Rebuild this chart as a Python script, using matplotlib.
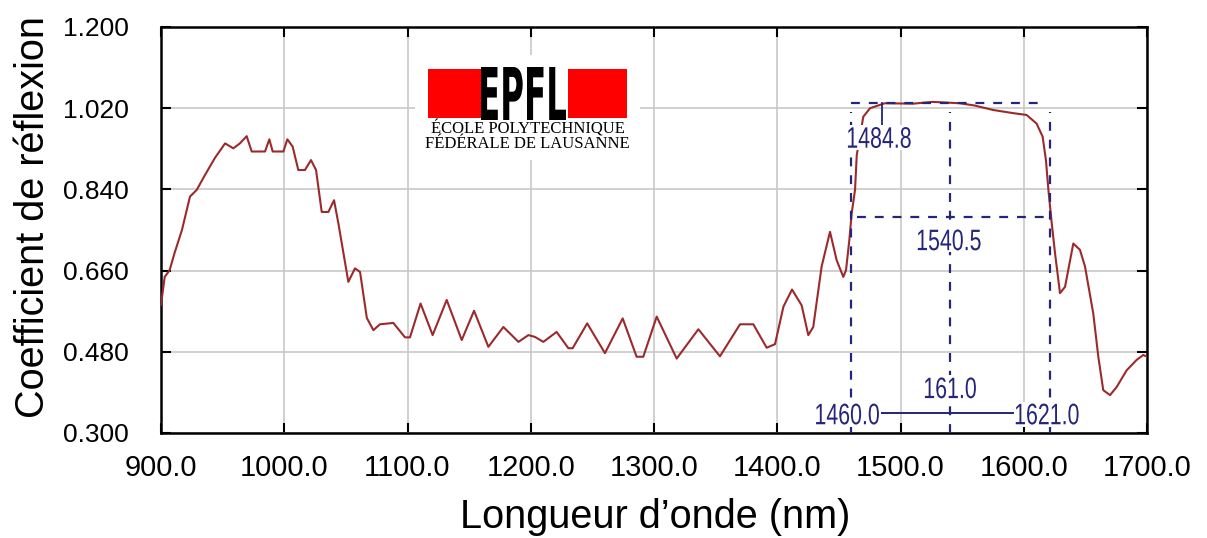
import numpy as np
import matplotlib
matplotlib.use('Agg')
import matplotlib.pyplot as plt
from matplotlib.patches import Rectangle, PathPatch
from matplotlib.textpath import TextPath
from matplotlib.font_manager import FontProperties
from matplotlib.transforms import Affine2D

# spectrum
wavelength = [900, 903, 907, 911, 917, 923.5, 929, 935.7, 943.8, 952, 958.7, 964, 969.5,
              973.6, 984.4, 987.9, 990.6, 999.3, 1002.5, 1006.8, 1011.4, 1016.8, 1021.7,
              1025.8, 1030.4, 1035.8, 1040.4, 1043.9, 1052, 1057.4, 1061.5, 1067, 1072.3,
              1077.7, 1088.5, 1098, 1102, 1110.6, 1120.4, 1131.8, 1144, 1154, 1165.6,
              1177.8, 1190, 1198.1, 1203.4, 1210.2, 1221, 1230.5, 1234, 1245.8, 1260.2,
              1274.6, 1285.9, 1291.3, 1302.2, 1318.4, 1336, 1353.5, 1369.8, 1380.6,
              1391.4, 1398.2, 1405, 1412, 1419.8, 1425.2, 1429.2, 1436, 1442.8, 1448.2,
              1453.6, 1455.8, 1458.5, 1460.4, 1463.1, 1464.5, 1469.8, 1475.3, 1487.4,
              1510, 1526, 1548, 1560, 1575.3, 1591.5, 1602.3, 1610.4, 1615.3, 1618, 1620,
              1622.7, 1625.4, 1629.4, 1633.5, 1640.2, 1645.6, 1649.7, 1656.4, 1660.5,
              1664.5, 1670, 1675.4, 1683.5, 1691.6, 1697, 1700]
reflexion = [0.584, 0.646, 0.661, 0.699, 0.750, 0.824, 0.839, 0.872, 0.910, 0.942, 0.931, 0.942, 0.958,
             0.924, 0.924, 0.951, 0.924, 0.924, 0.951, 0.935, 0.883, 0.883, 0.905,
             0.883, 0.790, 0.790, 0.816, 0.765, 0.635, 0.665, 0.657, 0.555, 0.528,
             0.541, 0.544, 0.512, 0.512, 0.587, 0.517, 0.595, 0.506, 0.571, 0.491,
             0.535, 0.502, 0.517, 0.513, 0.502, 0.524, 0.488, 0.488, 0.543, 0.477,
             0.554, 0.469, 0.469, 0.558, 0.465, 0.530, 0.470, 0.541, 0.541,
             0.489, 0.497, 0.580, 0.618, 0.583, 0.517, 0.535, 0.669, 0.746, 0.683,
             0.646, 0.661, 0.728, 0.787, 0.839, 0.916, 1.001, 1.020, 1.031,
             1.030, 1.034, 1.031, 1.026, 1.016, 1.009, 1.005, 0.986, 0.957, 0.905, 0.839,
             0.765, 0.698, 0.610, 0.624, 0.720, 0.706, 0.669, 0.565, 0.469,
             0.395, 0.384, 0.402, 0.439, 0.462, 0.473, 0.469]

x_ticks = [900.0, 1000.0, 1100.0, 1200.0, 1300.0, 1400.0, 1500.0, 1600.0, 1700.0]
y_ticks = [0.300, 0.480, 0.660, 0.840, 1.020, 1.200]

# band measurement
band_start = 1460.0
band_end = 1621.0
band_center = 1540.5
band_width = 161.0
peak_wl = 1484.8
top_level = 1.032
half_level = 0.779

navy = '#25257a'
curve_col = '#9c2a2c'

fig = plt.figure(figsize=(12.07, 5.38), dpi=100)
ax = fig.add_axes([161 / 1207, 105 / 538, 986 / 1207, 406 / 538])

ax.plot(wavelength, reflexion, color=curve_col, lw=1.5, zorder=3)

ax.set_xlim(900, 1700)
ax.set_ylim(0.3, 1.2)
ax.set_xticks(x_ticks, labels=[f'{v:.1f}' for v in x_ticks], family='Liberation Sans', fontsize=21)
ax.set_yticks(y_ticks, labels=[f'{v:.3f}' for v in y_ticks], family='Liberation Sans', fontsize=19)
ax.grid(color='#c8c8c8', lw=1.2)
ax.set_axisbelow(True)
ax.tick_params(direction='in', length=7, width=1.5, top=True, right=True, colors='black')
ax.tick_params(axis='x', pad=15)
ax.tick_params(axis='y', pad=23)
for s in ax.spines.values():
    s.set_linewidth(1.8)

# dashed measurement box
dash = (0, (4, 4))
for xv in [band_start, band_center, band_end]:
    ax.plot([xv, xv], [0.3, 1.012], color=navy, ls=dash, lw=1.6, zorder=4)
ax.plot([band_start, band_end - 5], [top_level, top_level], color=navy, ls=dash, lw=1.6, zorder=4)
ax.plot([band_start + 5, band_end], [half_level, half_level], color=navy, ls=dash, lw=1.6, zorder=4)
ax.plot([peak_wl, peak_wl], [top_level, 0.972], color=navy, lw=1.3, zorder=4)
ax.plot([band_start, band_end], [0.344, 0.344], color=navy, lw=1.4, zorder=4)


def narrow_label(x, y, s, height=21, squeeze=0.72):
    # condensed digits: squeeze a text path horizontally, placed in pixels around (x, y)
    tp = TextPath((0, 0), s, size=1, prop=FontProperties(family='Liberation Sans'))
    bb = tp.get_extents()
    k = height / bb.height
    cx, cy = ax.transData.transform((x, y))
    tr = (Affine2D().translate(-(bb.x0 + bb.width / 2), -(bb.y0 + bb.height / 2))
          .scale(k * squeeze, k).translate(cx, cy))
    w = bb.width * k * squeeze
    fig.patches.append(Rectangle((cx - w / 2 - 2, cy - height / 2 - 2), w + 4, height + 4,
                                 facecolor='white', edgecolor='none', transform=None, zorder=5))
    fig.patches.append(PathPatch(tr.transform_path(tp), facecolor=navy, edgecolor='none',
                                 transform=None, zorder=6))


narrow_label(peak_wl - 2, 0.955, f'{peak_wl:.1f}')
narrow_label(band_center - 1, 0.728, f'{band_center:.1f}')
narrow_label(band_center, 0.400, f'{band_width:.1f}')
narrow_label(band_start - 3, 0.342, f'{band_start:.1f}')
narrow_label(band_end - 2, 0.342, f'{band_end:.1f}')

# axis labels
fig.text(655 / 1207, 1 - 517 / 538, 'Longueur d\u2019onde (nm)', fontsize=28.5,
         family='Liberation Sans', ha='center', va='center')
fig.text(33 / 1207, 1 - 217 / 538, 'Coefficient de r\u00e9flexion', fontsize=28.5,
         family='Liberation Sans', ha='center', va='center', rotation=90)

# EPFL logo, drawn in pixel units of its own little axes
lax = fig.add_axes([415 / 1207, 1 - 160 / 538, 225 / 1207, 105 / 538])
lax.set_xlim(415, 640)
lax.set_ylim(160, 55)
lax.set_xticks([])
lax.set_yticks([])
for s in lax.spines.values():
    s.set_visible(False)
lax.add_patch(Rectangle((428, 69), 55, 49, color='#ff0000', lw=0))
lax.add_patch(Rectangle((568, 69), 59, 49, color='#ff0000', lw=0))
tp = TextPath((0, 0), 'EPFL', size=1, prop=FontProperties(family='DejaVu Sans', weight='bold'))
bb = tp.get_extents()
x0, x1, y0, y1 = 481, 566, 67, 120
tr = Affine2D().translate(-bb.x0, -bb.y0).scale((x1 - x0) / bb.width, -(y1 - y0) / bb.height).translate(x0, y1)
lax.add_patch(PathPatch(tr.transform_path(tp), facecolor='black', edgecolor='none'))
lax.text(527.5, 129, '\u00c9COLE POLYTECHNIQUE', family='Liberation Serif', fontsize=12,
         ha='center', va='center')
lax.text(527.5, 144, 'F\u00c9D\u00c9RALE DE LAUSANNE', family='Liberation Serif', fontsize=12,
         ha='center', va='center')

fig.savefig('out.png', dpi=100, facecolor='white')
